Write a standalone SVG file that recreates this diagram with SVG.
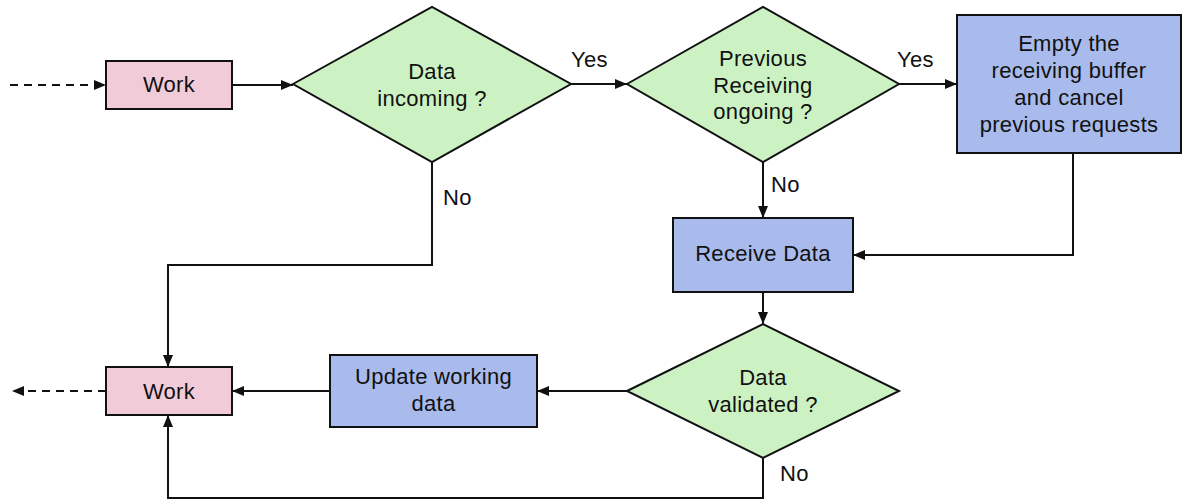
<svg xmlns="http://www.w3.org/2000/svg" width="1183" height="500" viewBox="0 0 1183 500">
<style>
text{font-family:"Liberation Sans",Arial,sans-serif;font-size:22px;fill:#111;letter-spacing:0.3px}
.c{text-anchor:middle}
.box{stroke:#111;stroke-width:2}
.work{fill:#f2cbd8}
.proc{fill:#a9bbec}
.dec{fill:#ccf2c4;stroke:#111;stroke-width:2;stroke-linejoin:miter}
.ln{fill:none;stroke:#111;stroke-width:2}
.dash{stroke-dasharray:8 6}
</style>
<defs>
<marker id="ah" markerUnits="userSpaceOnUse" markerWidth="13" markerHeight="11" refX="12" refY="5" orient="auto">
<path d="M0,0 L12,5 L0,10 z" fill="#111"/>
</marker>
</defs>
<rect width="1183" height="500" fill="#fff"/>
<g id="connectors">
<path class="ln dash" d="M10 85 H106" marker-end="url(#ah)"/>
<path class="ln" d="M232 85 H293" marker-end="url(#ah)"/>
<path class="ln" d="M571 84 H627" marker-end="url(#ah)"/>
<path class="ln" d="M899 84 H957" marker-end="url(#ah)"/>
<path class="ln" d="M763 162 V218" marker-end="url(#ah)"/>
<path class="ln" d="M1073 153 V255 H853" marker-end="url(#ah)"/>
<path class="ln" d="M763 292 V324" marker-end="url(#ah)"/>
<path class="ln" d="M627 391 H537" marker-end="url(#ah)"/>
<path class="ln" d="M330 391 H232" marker-end="url(#ah)"/>
<path class="ln dash" d="M106 391 H12" marker-end="url(#ah)"/>
<path class="ln" d="M432 162 V265 H168 V367" marker-end="url(#ah)"/>
<path class="ln" d="M763 458 V498 H168 V415" marker-end="url(#ah)"/>
<text x="571" y="67">Yes</text>
<text x="897" y="67">Yes</text>
<text x="443" y="205">No</text>
<text x="771" y="192">No</text>
<text x="780" y="481">No</text>
</g>
<g id="work1">
<rect class="box work" x="106" y="61" width="126" height="48"/>
<text class="c" x="169" y="92">Work</text>
</g>
<g id="dataIncoming">
<polygon class="dec" points="293,84 432,7 571,84 432,162"/>
<text class="c" x="432" y="79">Data</text>
<text class="c" x="432" y="106">incoming ?</text>
</g>
<g id="prevReceiving">
<polygon class="dec" points="627,84 763,7 899,84 763,162"/>
<text class="c" x="763" y="66">Previous</text>
<text class="c" x="763" y="93">Receiving</text>
<text class="c" x="763" y="119">ongoing ?</text>
</g>
<g id="emptyBuffer">
<rect class="box proc" x="957" y="15" width="224" height="138"/>
<text class="c" x="1069" y="51">Empty the</text>
<text class="c" x="1069" y="78">receiving buffer</text>
<text class="c" x="1069" y="105">and cancel</text>
<text class="c" x="1069" y="132">previous requests</text>
</g>
<g id="receiveData">
<rect class="box proc" x="673" y="218" width="180" height="74"/>
<text class="c" x="763" y="261">Receive Data</text>
</g>
<g id="dataValidated">
<polygon class="dec" points="627,391 763,324 899,391 763,458"/>
<text class="c" x="763" y="385">Data</text>
<text class="c" x="763" y="412">validated ?</text>
</g>
<g id="updateData">
<rect class="box proc" x="330" y="355" width="207" height="72"/>
<text class="c" x="433.5" y="384">Update working</text>
<text class="c" x="433.5" y="411">data</text>
</g>
<g id="work2">
<rect class="box work" x="106" y="367" width="126" height="48"/>
<text class="c" x="169" y="399">Work</text>
</g>
</svg>
